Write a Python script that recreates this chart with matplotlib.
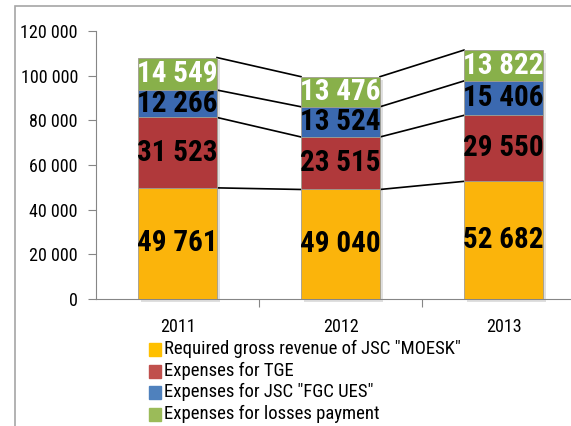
import numpy as np
import matplotlib.pyplot as plt
from matplotlib.patches import Rectangle

plt.rcParams['font.family'] = ['Roboto Condensed', 'DejaVu Sans']

# Дані
years = ['2011', '2012', '2013']
revenue = [49761, 49040, 52682]
tge = [31523, 23515, 29550]
fgc = [12266, 13524, 15406]
losses = [14549, 13476, 13822]
series_names = ['Required gross revenue of JSC "MOESK"', 'Expenses for TGE',
                'Expenses for JSC "FGC UES"', 'Expenses for losses payment']
y_ticks = [0, 20000, 40000, 60000, 80000, 100000, 120000]

bar_colors = ['#FBB40B', '#B0393B', '#3B69B0', '#88B04A']
legend_colors = ['#FFC000', '#C0504D', '#4F81BD', '#9BBB59']
label_colors = ['black', 'black', 'black', 'white']

fig = plt.figure(figsize=(5.71, 4.26), dpi=100)
# рамка навколо діаграми
fig.patches.append(Rectangle((15 / 571, -0.1), 1.2, 1 - 6 / 426 + 0.1, transform=fig.transFigure,
                             fill=False, edgecolor='#A6A6A6', linewidth=1.2))
ax = fig.add_axes([96 / 571, 1 - 299 / 426, 489 / 571, 268 / 426])

x = np.arange(len(years))
width = 0.485
data = [revenue, tge, fgc, losses]
totals = np.sum(data, axis=0)

# тінь під стовпцями
ax.bar(x + 0.02, totals, width, bottom=-1300, color='#808080', alpha=0.25, zorder=1,
       clip_on=False)

bottom = np.zeros(len(years))
for vals, c, lc, name in zip(data, bar_colors, label_colors, series_names):
    vals = np.array(vals)
    ax.bar(x, vals, width, bottom=bottom, color=c, edgecolor='#A09C90', linewidth=0.6,
           zorder=3, label=name)
    for xi, b, v in zip(x, bottom, vals):
        ax.text(xi, b + v / 2, f'{v:,}'.replace(',', ' '), ha='center', va='center',
                fontsize=21, fontweight='bold', color=lc, zorder=4)
    bottom = bottom + vals
    # з'єднувальні лінії
    for i in range(len(years) - 1):
        ax.plot([x[i] + width / 2, x[i + 1] - width / 2], [bottom[i], bottom[i + 1]],
                color='black', linewidth=1.2, zorder=2)

ax.set_xlim(-0.5, 2.5)
ax.set_ylim(0, 120000)
ax.set_yticks(y_ticks)
ax.set_yticklabels([f'{t:,}'.replace(',', ' ') for t in y_ticks], fontsize=13)
ax.set_xticks([0.5, 1.5])
ax.set_xticklabels([])
ax.tick_params(axis='x', length=6, color='#868686', direction='out')
ax.tick_params(axis='y', length=6, color='#868686', direction='out', pad=7)
for i, yr in enumerate(years):
    ax.text(i, -12500, yr, ha='center', va='center', fontsize=13)
for s in ['top', 'right']:
    ax.spines[s].set_visible(False)
ax.spines['left'].set_color('#868686')
ax.spines['bottom'].set_color('#868686')

# легенда
for k, (name, c) in enumerate(zip(series_names, legend_colors)):
    yy = 1 - (349 + k * 21.7) / 426
    fig.patches.append(Rectangle((149 / 571, yy - 7 / 426), 12 / 571, 13 / 426,
                                 transform=fig.transFigure, color=c))
    fig.text(164 / 571, yy, name, ha='left', va='center', fontsize=13.5)

fig.savefig('out.png', dpi=100)
